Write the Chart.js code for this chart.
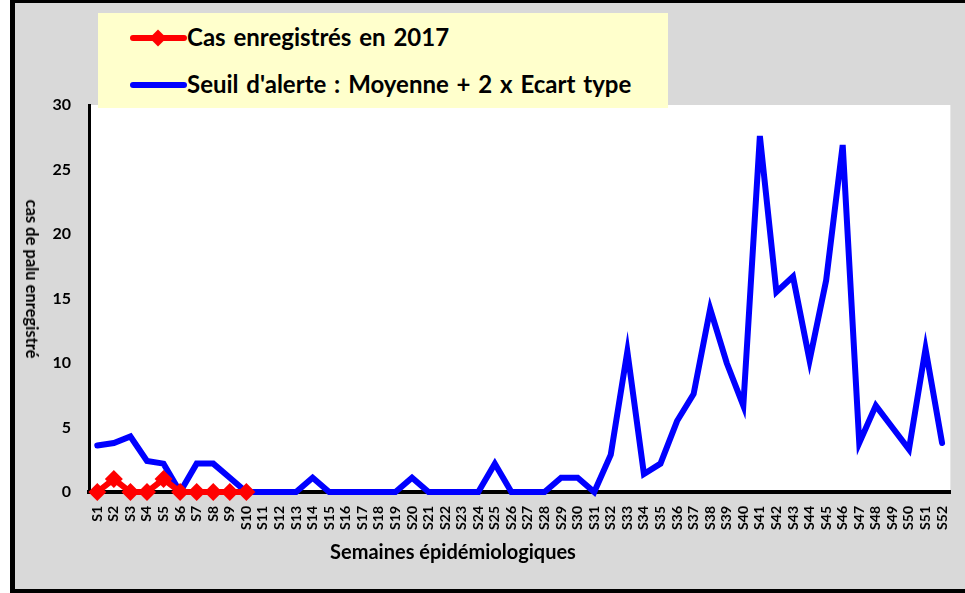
<!DOCTYPE html>
<html>
<head>
<meta charset="utf-8">
<script src="https://cdn.jsdelivr.net/npm/chart.js@4"></script>
<style>
  body { margin: 0; background: #fff; width: 965px; height: 593px; overflow: hidden; position: relative; font-family: Lato, sans-serif; }
  #frame { position: absolute; left: 10px; top: 0; width: 980px; height: 586px; background: #d9d9d9;
           border-left: 5px solid #000; border-top: 3px solid #000; border-bottom: 4px solid #000; }
  #chart { position: absolute; left: 0; top: 0; }
  #legend { position: absolute; left: 98px; top: 13px; width: 570px; height: 95px; background: #ffffcc; }
  .item { position: absolute; left: 32px; height: 28px; font-weight: bold; font-size: 24px; color: #000; white-space: nowrap; word-spacing: 2px; }
  .item .line { position: absolute; left: 0; top: 11px; width: 57px; height: 6px; border-radius: 3px; }
  .item .dia { position: absolute; left: 22px; top: 8px; width: 12px; height: 12px; transform: rotate(45deg); }
  .item span { position: absolute; left: 57px; top: -2px; }
  .title { position: absolute; font-weight: bold; color: #000; white-space: nowrap; }
</style>
</head>
<body>
<div id="frame"><canvas id="chart" width="950" height="586"></canvas></div>
<div id="legend"></div>
<div class="title" id="xTitle" style="font-size:20px; left:453px; top:551px; transform:translate(-50%,-50%);"></div>
<div class="title" id="yTitle" style="font-size:16.5px; left:32px; top:279px; transform:translate(-50%,-50%) rotate(90deg);"></div>
<script>
const weeks = [
  "S1", "S2", "S3", "S4", "S5", "S6", "S7", "S8", "S9", "S10",
  "S11", "S12", "S13", "S14", "S15", "S16", "S17", "S18", "S19", "S20",
  "S21", "S22", "S23", "S24", "S25", "S26", "S27", "S28", "S29", "S30",
  "S31", "S32", "S33", "S34", "S35", "S36", "S37", "S38", "S39", "S40",
  "S41", "S42", "S43", "S44", "S45", "S46", "S47", "S48", "S49", "S50",
  "S51", "S52",
];

const cases2017 = [0, 1, 0, 0, 1, 0, 0, 0, 0, 0];

const alertThreshold = [
  3.6, 3.8, 4.3, 2.4, 2.2, 0, 2.2, 2.2, 1.1, 0,
  0, 0, 0, 1.1, 0, 0, 0, 0, 0, 1.1,
  0, 0, 0, 0, 2.2, 0, 0, 0, 1.1, 1.1,
  0, 2.9, 10.9, 1.4, 2.2, 5.5, 7.6, 14.2, 10.0, 6.7,
  27.6, 15.5, 16.7, 10.2, 16.4, 26.9, 3.8, 6.7, 5.0, 3.3,
  11.1, 3.8,
];

const yTicks = [0, 5, 10, 15, 20, 25, 30];

const casesLabel = "Cas enregistrés en 2017";
const alertLabel = "Seuil d'alerte : Moyenne + 2 x Ecart type";
const xTitle = "Semaines épidémiologiques";
const yTitle = "cas de palu enregistré";

const red = "#ff0000";
const blue = "#0000ff";

// legend and axis titles as html
const legend = document.getElementById("legend");
[
  { label: casesLabel, color: red, marker: true, top: 11 },
  { label: alertLabel, color: blue, marker: false, top: 58 },
].forEach((it) => {
  const d = document.createElement("div");
  d.className = "item";
  d.style.top = it.top + "px";
  d.innerHTML =
    '<div class="line" style="background:' + it.color + '"></div>' +
    (it.marker ? '<div class="dia" style="background:' + it.color + '"></div>' : "") +
    "<span></span>";
  d.querySelector("span").textContent = it.label;
  legend.appendChild(d);
});
document.getElementById("xTitle").textContent = xTitle;
document.getElementById("yTitle").textContent = yTitle;

const plotBackground = {
  id: "plotBackground",
  beforeDraw(chart) {
    const { ctx, chartArea } = chart;
    ctx.save();
    ctx.fillStyle = "#ffffff";
    ctx.fillRect(chartArea.left, chartArea.top, chartArea.right - chartArea.left, chartArea.bottom - chartArea.top);
    ctx.restore();
  },
};

new Chart(document.getElementById("chart"), {
  type: "line",
  data: {
    labels: weeks,
    datasets: [
      {
        label: casesLabel,
        data: cases2017,
        borderColor: red,
        backgroundColor: red,
        borderWidth: 6,
        pointStyle: "rectRot",
        pointRadius: 9,
        pointBorderWidth: 0,
        tension: 0,
        clip: false,
      },
      {
        label: alertLabel,
        data: alertThreshold,
        borderColor: blue,
        backgroundColor: blue,
        borderWidth: 6,
        pointRadius: 0,
        tension: 0,
        borderCapStyle: "round",
        clip: false,
      },
    ],
  },
  options: {
    responsive: false,
    animation: false,
    devicePixelRatio: 1,
    layout: { padding: { left: 0, top: 102, right: 12, bottom: 0 } },
    plugins: { legend: { display: false }, tooltip: { enabled: false } },
    scales: {
      x: {
        offset: true,
        grid: { display: false },
        border: { display: true, color: "#000", width: 4 },
        ticks: {
          autoSkip: false,
          maxRotation: 90,
          minRotation: 90,
          padding: 6,
          color: "#000",
          font: { family: "Lato", weight: "bold", size: 14 },
        },
        afterFit(scale) { scale.height = 97; },
      },
      y: {
        min: 0,
        max: 30,
        grid: { display: false, drawTicks: false },
        border: { display: true, color: "#000", width: 3 },
        afterBuildTicks(scale) { scale.ticks = yTicks.map((v) => ({ value: v })); },
        ticks: {
          padding: 18,
          color: "#000",
          font: { family: "Lato", weight: "bold", size: 16 },
        },
        afterFit(scale) { scale.width = 74; },
      },
    },
  },
  plugins: [plotBackground],
});
</script>
</body>
</html>
